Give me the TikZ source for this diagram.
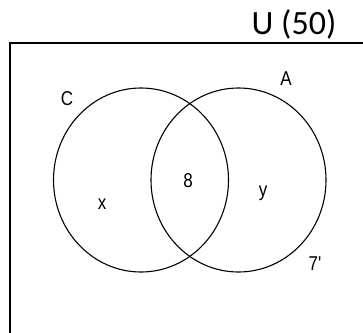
\documentclass[tikz,border=0pt]{standalone}
\usepackage{fontspec}
\setmainfont{Liberation Sans}
\newfontfamily\titlefont{Carlito}
\newfontfamily\lblfont[FakeStretch=0.85]{Liberation Sans}

\begin{document}
\begin{tikzpicture}[x=1pt, y=-1pt,
  frame/.style={draw, line width=2pt},
  setline/.style={draw, line width=1.1pt},
  lbl/.style={font=\lblfont\fontsize{20}{20}\selectfont, inner sep=0pt},
  title/.style={font=\titlefont\fontsize{34}{34}\selectfont, inner sep=0pt, anchor=base}
]
  \useasboundingbox (0,0) rectangle (363,332);
  \clip (0,0) rectangle (363,332);

  % universe frame (runs past the right and bottom edges)
  \draw[frame] (10,43) rectangle (400,400);
  \node[title] (univ) at (294,34) {U (50)};

  % the two sets
  \draw[setline] (141,180) ellipse [x radius=87.5, y radius=92];
  \draw[setline] (238.5,180) ellipse [x radius=87.5, y radius=92];

  \node[lbl] (setC) at (67,99)  {C};
  \node[lbl] (setA) at (286,79) {A};

  % region counts
  \node[lbl] (both)  at (188,181) {8};
  \node[lbl] (onlyC) at (102,204) {x};
  \node[lbl] (onlyA) at (263,193) {y};
  \node[lbl] (none)  at (315,264) {7'};
\end{tikzpicture}
\end{document}
